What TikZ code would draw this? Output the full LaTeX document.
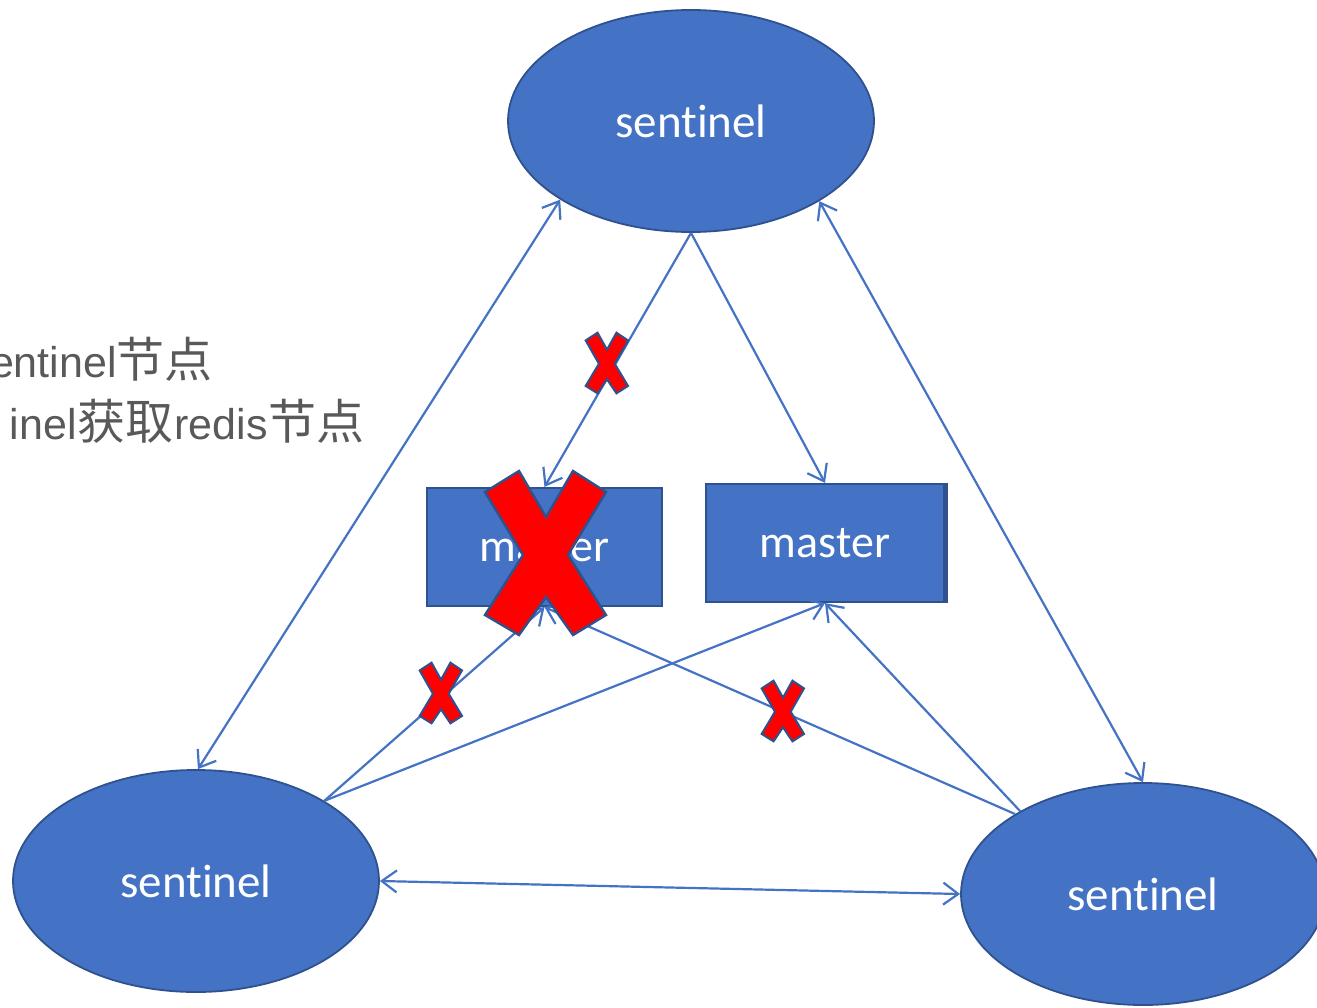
\documentclass[tikz,border=0pt]{standalone}
\usepackage{fontspec}
\newfontfamily\calib[Ligatures=NoCommon]{Carlito}
\newfontfamily\latinnote{Liberation Sans}
\newfontfamily\cjk{Noto Sans CJK SC}
\usetikzlibrary{shapes.geometric,arrows.meta}
\definecolor{boxblue}{HTML}{4472C4}
\definecolor{edgeblue}{HTML}{2F528F}
\definecolor{notegray}{HTML}{595959}
\definecolor{failred}{HTML}{FF0000}

% CJK run in the side note, slightly larger than the Latin run
\newcommand\hanzi[1]{{\cjk\fontsize{48}{52}\selectfont #1}}

\tikzset{
  failmark/.pic={
    \draw[fill=failred, draw=edgeblue, line join=miter]
      (-61,-61) -- (-27,-82) -- (0,-36) -- (27,-82) -- (60,-61) -- (22,2)
      -- (60,62) -- (27,82) -- (0,44) -- (-27,82) -- (-61,62) -- (-23,2) -- cycle;
  }
}

\begin{document}
\begin{tikzpicture}[x=1pt,y=-1pt,
  sentinelnode/.style={ellipse, draw=edgeblue, fill=boxblue, line width=1.8pt,
    minimum width=366pt, minimum height=222pt, inner sep=0pt, text=white,
    font=\calib\fontsize{47}{50}\selectfont},
  masternode/.style={rectangle, draw=edgeblue, fill=boxblue, line width=2.2pt,
    minimum height=118pt, inner sep=0pt, text=white,
    font=\calib\fontsize{46}{50}\selectfont},
  notetext/.style={text=notegray, inner sep=0pt,
    font=\latinnote\fontsize{43}{50}\selectfont},
  link/.style={draw=boxblue, line width=2.2pt},
  oneway/.style={-{Straight Barb[length=15pt,width=22pt]}},
  twoway/.style={{Straight Barb[length=15pt,width=22pt]}-{Straight Barb[length=15pt,width=22pt]}}
]
\useasboundingbox (0,0) rectangle (1317,1007);

% explanatory text at the left edge
\node[notetext, anchor=base east] (note1) at (213,377) {entinel\hanzi{节点}};
\node[notetext, anchor=base east] (note2) at (365,439)
  {inel\hspace{1pt}\hanzi{获取}\hspace{1pt}redis\hspace{1pt}\hanzi{节点}};

% sentinels
\node[sentinelnode] (top) at (691,121) {sentinel};
\node[sentinelnode] (bl) at (196,881) {sentinel};
\node[sentinelnode, minimum width=364pt] (br) at (1143,894) {sentinel};

% masters
\node[masternode, minimum width=235pt] (lm) at (544.5,547) {master};
\node[masternode, minimum width=238pt] (rm) at (825,543) {master};
\draw[edgeblue, line width=3.5pt] ([xshift=1pt]rm.north east) -- ([xshift=1pt]rm.south east);

% sentinel <-> sentinel
\draw[link, twoway] (top.211.6) -- (bl.89);
\draw[link, twoway] (top.328.4) -- (br.90);
\draw[link, twoway] (bl.east) -- (br.west);

% sentinel -> master
\draw[link, oneway] (top.south) -- (lm.north);
\draw[link, oneway] (top.south) -- (rm.north);
\draw[link, oneway] (bl.32) -- (lm.south);
\draw[link, oneway] (bl.32) -- (rm.south);
\draw[link, oneway] (br.148) -- (lm.south);
\draw[link, oneway] (br.146) -- (rm.south);

% failure marks
\pic[line width=2.4pt] at (546,553) {failmark};
\pic[xscale=0.35, yscale=0.37, line width=2pt] at (607,363) {failmark};
\pic[xscale=0.35, yscale=0.37, line width=2pt] at (441,693) {failmark};
\pic[xscale=0.35, yscale=0.37, line width=2pt] at (783,711) {failmark};
\end{tikzpicture}
\end{document}
